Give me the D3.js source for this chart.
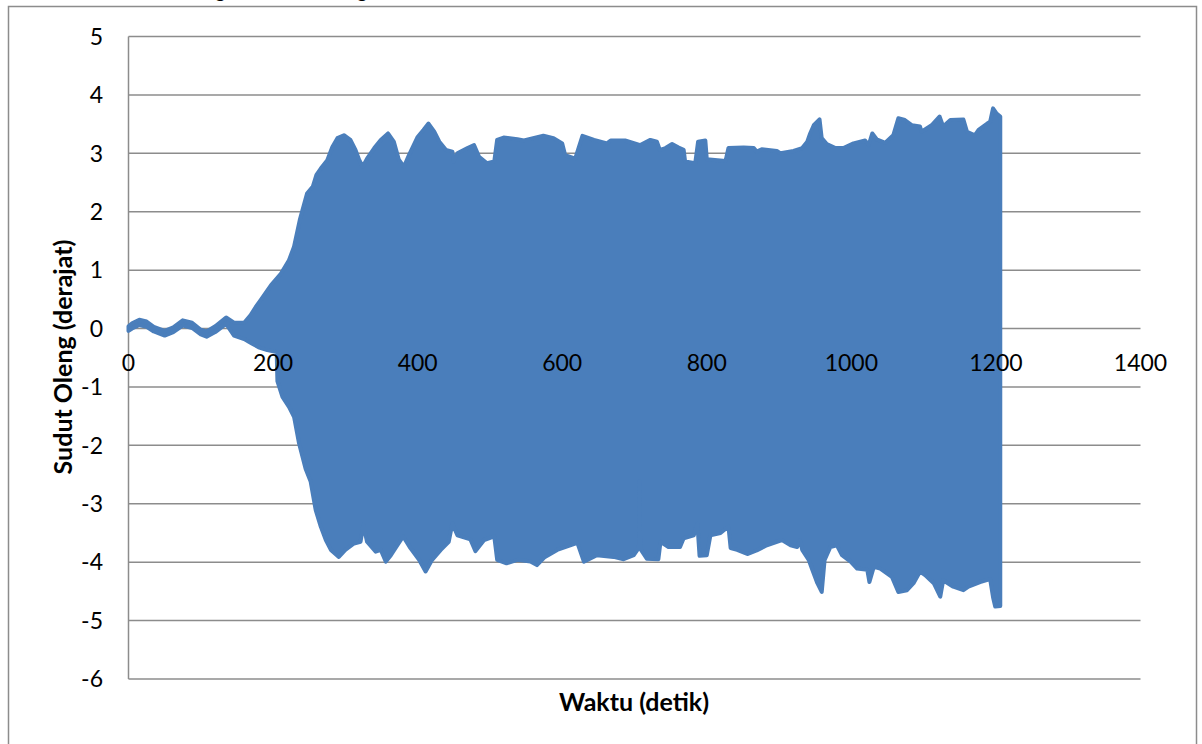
<!DOCTYPE html>
<html>
<head>
<meta charset="utf-8">
<script src="https://cdn.jsdelivr.net/npm/d3@7"></script>
<style>
  html, body { margin: 0; padding: 0; background: #fff; }
  svg { display: block; }
  text { font-family: Lato, "Open Sans", sans-serif; fill: #000; }
</style>
</head>
<body>
<svg id="chart" width="1202" height="744"></svg>
<script>
// Sumbu
const xTicks = [0, 200, 400, 600, 800, 1000, 1200, 1400];
const yTicks = [5, 4, 3, 2, 1, 0, -1, -2, -3, -4, -5, -6];

// Selubung atas sinyal sudut oleng: [waktu (detik), sudut (derajat)]
const selubungAtas = [
  [0, 0.04], [5, 0.09], [15, 0.15], [25, 0.12], [35, 0.03], [50, -0.04], [62, 0.02],
  [75, 0.14], [88, 0.1], [100, -0.02], [108, -0.05], [120, 0.04], [135, 0.19],
  [146, 0.1], [160, 0.1], [169, 0.23], [176, 0.37], [183, 0.49], [197, 0.74],
  [211, 0.94], [222, 1.17], [229, 1.4], [237, 1.86], [247, 2.31], [255, 2.43],
  [260, 2.63], [266, 2.74], [275, 2.88], [282, 3.11], [289, 3.26], [298, 3.31],
  [307, 3.23], [314, 3.06], [319, 2.89], [324, 2.77], [330, 2.91], [340, 3.09],
  [349, 3.23], [359, 3.34], [367, 3.2], [374, 2.89], [381, 2.77], [388, 2.97],
  [400, 3.28], [408, 3.4], [415, 3.51], [423, 3.37], [430, 3.2], [439, 3.06],
  [448, 3.03], [450, 2.86], [455, 3.0], [469, 3.09], [478, 3.14], [485, 2.94],
  [496, 2.83], [506, 2.86], [510, 3.23], [519, 3.27], [538, 3.24], [547, 3.22],
  [574, 3.3], [588, 3.26], [600, 3.17], [604, 2.97], [618, 2.91], [628, 3.3],
  [644, 3.23], [662, 3.17], [667, 3.22], [687, 3.22], [708, 3.14], [722, 3.23],
  [731, 3.2], [735, 3.06], [743, 3.09], [752, 3.16], [761, 3.1], [768, 3.06],
  [770, 2.86], [784, 2.83], [788, 3.2], [798, 3.22], [800, 2.9], [826, 2.87],
  [830, 3.09], [851, 3.1], [865, 3.09], [869, 3.03], [876, 3.07], [897, 3.04],
  [902, 3.0], [920, 3.04], [932, 3.09], [939, 3.2], [943, 3.34], [948, 3.48],
  [956, 3.58], [959, 3.26], [966, 3.16], [978, 3.09], [989, 3.09], [1003, 3.17],
  [1019, 3.22], [1024, 3.14], [1029, 3.34], [1035, 3.24], [1047, 3.18],
  [1058, 3.31], [1065, 3.6], [1074, 3.57], [1084, 3.48], [1095, 3.46],
  [1097, 3.37], [1111, 3.48], [1122, 3.63], [1127, 3.46], [1137, 3.57],
  [1155, 3.58], [1160, 3.37], [1171, 3.31], [1176, 3.4], [1188, 3.51],
  [1192, 3.54], [1196, 3.77], [1201, 3.68], [1206, 3.63]
];

// Selubung bawah sinyal sudut oleng: [waktu (detik), sudut (derajat)]
const selubungBawah = [
  [0, -0.04], [5, 0.0], [15, 0.06], [25, 0.03], [35, -0.05], [50, -0.12], [62, -0.06],
  [75, 0.05], [88, 0.01], [100, -0.1], [108, -0.14], [120, -0.06], [135, 0.08],
  [146, -0.12], [160, -0.18], [170, -0.25], [180, -0.32], [192, -0.37],
  [205, -0.4], [206, -0.9], [213, -1.17], [222, -1.34], [229, -1.51],
  [236, -1.97], [245, -2.4], [252, -2.62], [259, -3.11], [266, -3.39],
  [273, -3.62], [280, -3.79], [291, -3.91], [300, -3.79], [312, -3.68],
  [321, -3.65], [325, -3.36], [330, -3.65], [342, -3.82], [349, -3.79],
  [356, -3.99], [363, -3.88], [372, -3.71], [380, -3.56], [390, -3.76],
  [402, -3.96], [411, -4.16], [420, -3.96], [432, -3.79], [443, -3.65],
  [448, -3.34], [455, -3.54], [473, -3.61], [480, -3.81], [492, -3.62],
  [506, -3.56], [510, -3.96], [523, -4.02], [538, -3.96], [556, -3.99],
  [565, -4.05], [575, -3.92], [593, -3.79], [621, -3.67], [630, -3.99],
  [648, -3.88], [671, -3.91], [685, -3.95], [699, -3.88], [704, -3.79],
  [706.5, -3.7], [707, -2.62], [707.8, -3.75], [709, -3.79], [717, -3.94],
  [733, -3.95], [736, -3.65], [747, -3.74], [763, -3.74], [768, -3.59],
  [782, -3.54], [787, -3.34], [790, -3.89], [800, -3.88], [805, -3.54],
  [819, -3.5], [830, -3.39], [833, -3.76], [842, -3.79], [856, -3.86],
  [869, -3.8], [883, -3.71], [904, -3.62], [916, -3.71], [925, -3.74],
  [929, -3.62], [932, -3.79], [941, -3.96], [946, -4.13], [953, -4.36],
  [959, -4.51], [963, -3.96], [971, -3.74], [980, -3.71], [987, -3.88],
  [999, -3.99], [1008, -4.11], [1022, -4.13], [1025, -4.34], [1031, -4.08],
  [1040, -4.11], [1056, -4.25], [1065, -4.51], [1077, -4.48], [1086, -4.36],
  [1095, -4.16], [1102, -4.22], [1114, -4.36], [1123, -4.59], [1127, -4.31],
  [1141, -4.42], [1155, -4.48], [1162, -4.42], [1178, -4.34], [1192, -4.29],
  [1196, -4.6], [1199, -4.76], [1206, -4.75]
];

const svg = d3.select("#chart");

// Bingkai luar grafik
svg.append("rect")
  .attr("x", 8.5).attr("y", 6.5)
  .attr("width", 1188).attr("height", 760)
  .attr("fill", "none").attr("stroke", "#8c8c8c").attr("stroke-width", 1.5);

// Keterangan dokumen di atas grafik (sebagian besar berada di luar bingkai)
svg.append("text")
  .attr("x", 127).attr("y", -2)
  .attr("font-size", 19.5)
  .text("Hasil olah gerak sudut oleng");

const x = d3.scaleLinear().domain([0, 1400]).range([128.5, 1140.5]);
const y = d3.scaleLinear().domain([-6, 5]).range([679, 36.5]);

// Garis kisi horizontal
svg.append("g")
  .selectAll("line")
  .data(yTicks)
  .join("line")
  .attr("x1", x(0)).attr("x2", x(1400))
  .attr("y1", d => y(d)).attr("y2", d => y(d))
  .attr("stroke", "#8c8c8c").attr("stroke-width", 1.5);

// Garis sumbu vertikal
svg.append("line")
  .attr("x1", x(0)).attr("x2", x(0))
  .attr("y1", y(5)).attr("y2", y(-6))
  .attr("stroke", "#8c8c8c").attr("stroke-width", 1.5);

// Label sumbu Y
svg.append("g")
  .selectAll("text")
  .data(yTicks)
  .join("text")
  .attr("x", 103)
  .attr("y", d => y(d))
  .attr("dy", "0.36em")
  .attr("text-anchor", "end")
  .attr("font-size", 23)
  .text(d => d);

// Sinyal sudut oleng: selubung atas maju, selubung bawah mundur
const garis = d3.line()
  .x(d => x(d[0]))
  .y(d => y(d[1]))
  .curve(d3.curveLinear);

const poligon = selubungAtas.concat(selubungBawah.slice().reverse());

svg.append("path")
  .attr("d", garis(poligon) + "Z")
  .attr("fill", "#4a7ebb")
  .attr("stroke", "#4a7ebb")
  .attr("stroke-width", 4)
  .attr("stroke-linejoin", "round")
  .attr("stroke-linecap", "round");

// Label sumbu X (di atas sinyal)
svg.append("g")
  .selectAll("text")
  .data(xTicks)
  .join("text")
  .attr("x", d => x(d))
  .attr("y", y(0) + 42)
  .attr("text-anchor", "middle")
  .attr("font-size", 23)
  .text(d => d);

// Judul sumbu
svg.append("text")
  .attr("x", 634).attr("y", 711)
  .attr("text-anchor", "middle")
  .attr("font-size", 25)
  .attr("font-weight", "bold")
  .text("Waktu (detik)");

svg.append("text")
  .attr("transform", "translate(72,357) rotate(-90)")
  .attr("text-anchor", "middle")
  .attr("font-size", 25)
  .attr("font-weight", "bold")
  .text("Sudut Oleng (derajat)");
</script>
</body>
</html>
